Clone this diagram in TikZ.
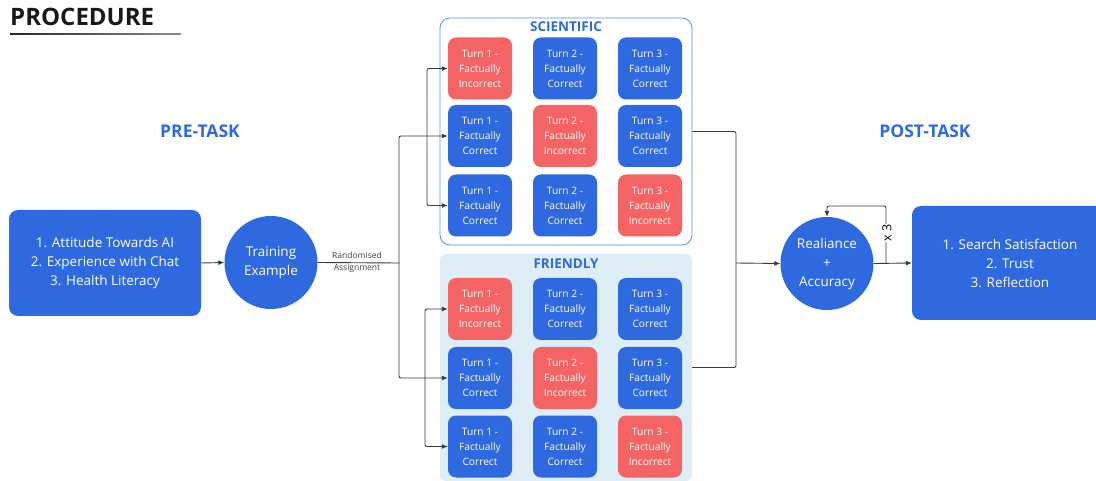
\documentclass[tikz,border=0pt]{standalone}
\usepackage{fontspec}
\setmainfont{Open Sans}
\usetikzlibrary{arrows.meta,calc}

\definecolor{procblue}{HTML}{2F69DF}
\definecolor{procred}{HTML}{F46464}
\definecolor{friendbg}{HTML}{DDEEF6}
\definecolor{sciline}{HTML}{5B8DEE}
\definecolor{wire}{HTML}{3A3A3A}

\tikzset{
  card/.style={rounded corners=8pt, minimum width=64pt, minimum height=62pt,
    align=center, text=white, font=\fontsize{10.2}{15}\selectfont, inner sep=0pt},
  okcard/.style={card, fill=procblue},
  badcard/.style={card, fill=procred},
  infobox/.style={rounded corners=9pt, fill=procblue, text=white, align=center,
    font=\fontsize{13.5}{19}\selectfont, inner sep=0pt},
  stepcircle/.style={circle, fill=procblue, text=white, align=center, inner sep=0pt,
    font=\fontsize{13.5}{19}\selectfont},
  phase/.style={text=procblue, font=\fontsize{17.5}{20}\selectfont\bfseries},
  grouptitle/.style={text=procblue, font=\fontsize{13.5}{15}\selectfont\bfseries},
  wired/.style={draw=wire, line width=0.9pt, rounded corners=2pt},
  arrowed/.style={wired, -{Latex[length=6pt,width=5pt]}}
}

\begin{document}
\begin{tikzpicture}[x=1pt, y=-1pt]
		\useasboundingbox (0,0) rectangle (1096,481);
		
		% title
		\node[anchor=west, font=\fontsize{24}{26}\selectfont\bfseries, text=black!90, inner sep=0pt] (title) at (10,17) {PROCEDURE};
		\shade[left color=black!85, right color=black!45] (10,33.4) rectangle (181,35);
		
		% phases
		\node[phase] (pretask) at (200,131) {PRE-TASK};
		\node[phase] (posttask) at (925,131) {POST-TASK};
		
		% left side
		\node[infobox, minimum width=192pt, minimum height=106pt] (pre) at (105,263)
		{1. Attitude Towards AI\\2. Experience with Chat\\3. Health Literacy};
		\node[stepcircle, minimum size=93pt] (train) at (271,262.5) {Training\\Example};
		
		% the two groups
		\node[draw=sciline, line width=0.8pt, rounded corners=10pt, minimum width=252pt, minimum height=227pt] (sci) at (566,131.5) {};
		\node[fill=friendbg, rounded corners=6pt, minimum width=252pt, minimum height=227pt] (fri) at (566,367.5) {};
		\node[grouptitle] (scititle) at (566,26.5) {SCIENTIFIC};
		\node[grouptitle] (frititle) at (566,263.5) {FRIENDLY};
		
		% scientific cards
		\node[badcard] (s11) at (480,68.5) {Turn 1 -\\Factually\\Incorrect};
		\node[okcard] (s12) at (565,68.5) {Turn 2 -\\Factually\\Correct};
		\node[okcard] (s13) at (650,68.5) {Turn 3 -\\Factually\\Correct};
		\node[okcard] (s21) at (480,136) {Turn 1 -\\Factually\\Correct};
		\node[badcard] (s22) at (565,136) {Turn 2 -\\Factually\\Incorrect};
		\node[okcard] (s23) at (650,136) {Turn 3 -\\Factually\\Correct};
		\node[okcard] (s31) at (480,205.5) {Turn 1 -\\Factually\\Correct};
		\node[okcard] (s32) at (565,205.5) {Turn 2 -\\Factually\\Correct};
		\node[badcard] (s33) at (650,205.5) {Turn 3 -\\Factually\\Incorrect};
		
		% friendly cards
		\node[badcard] (f11) at (480,309) {Turn 1 -\\Factually\\Incorrect};
		\node[okcard] (f12) at (565,309) {Turn 2 -\\Factually\\Correct};
		\node[okcard] (f13) at (650,309) {Turn 3 -\\Factually\\Correct};
		\node[okcard] (f21) at (480,378) {Turn 1 -\\Factually\\Correct};
		\node[badcard] (f22) at (565,378) {Turn 2 -\\Factually\\Incorrect};
		\node[okcard] (f23) at (650,378) {Turn 3 -\\Factually\\Correct};
		\node[okcard] (f31) at (480,446.5) {Turn 1 -\\Factually\\Correct};
		\node[okcard] (f32) at (565,446.5) {Turn 2 -\\Factually\\Correct};
		\node[badcard] (f33) at (650,446.5) {Turn 3 -\\Factually\\Incorrect};
		
		% right side
		\node[stepcircle, minimum size=93pt] (rel) at (827,263.5) {Realiance\\+\\Accuracy};
		\node[infobox, minimum width=196pt, minimum height=114pt] (post) at (1010,263)
		{1. Search Satisfaction\\2. Trust\\3. Reflection};
		
		% connectors
		\coordinate (split) at (399,263);
		\coordinate (sjoin) at (427,136);
		\coordinate (fjoin) at (425,378);
		\coordinate (merge) at (736,263);
		\coordinate (loopa) at (886,263);
		\coordinate (loopb) at (886,206);
		
		\draw[arrowed] (pre.east) -- (train.west);
		\draw[wired] (train.east) -- (split);
		\node[font=\fontsize{8.5}{12}\selectfont, text=black!75, align=center] (randlbl) at (357,262.5) {Randomised\\Assignment};
		\draw[arrowed] (split) |- (s21.west);
		\draw[arrowed] (split) |- (f21.west);
		\draw[arrowed] (sjoin) |- (s11.west);
		\draw[arrowed] (sjoin) |- (s31.west);
		\draw[arrowed] (fjoin) |- (f11.west);
		\draw[arrowed] (fjoin) |- (f31.west);
		
		\draw[wired] (sci.east) -| (merge);
		\draw[wired] (fri.east) -| (merge);
		\draw[arrowed] (merge) -- (rel.west);
		
		\draw[arrowed] (rel.east) -- (post.west);
		\draw[arrowed] (loopa) -- (loopb) -| (rel.north);
		\node[fill=white, rotate=90, inner sep=1pt, font=\fontsize{12.5}{14}\selectfont] (times) at (887,233) {x 3};
		
\end{tikzpicture}
\end{document}
